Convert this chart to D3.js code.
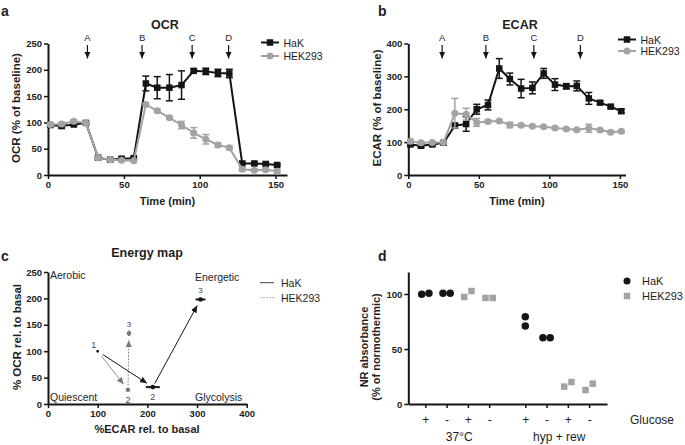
<!DOCTYPE html>
<html>
<head>
<meta charset="utf-8">
<script src="https://cdn.jsdelivr.net/npm/d3@7"></script>
<style>
  body { margin: 0; background: #fff; }
  text { font-family: "Liberation Sans", Arial, sans-serif; }
</style>
</head>
<body>
<svg id="fig" width="685" height="445"></svg>
<script>
// ---- data ----
const times = [1.5, 9, 17, 25, 33, 41, 48.5, 56.5, 64.5, 72, 80, 88, 96, 104, 112, 119.5, 128, 136, 143.5, 151];

const ocrHak    = [95, 93, 96, 99, 33, 29, 31, 32, 174, 166, 166, 171, 198, 197, 194, 193, 22, 22, 21, 19];
const ocrHakErr = [3, 3, 3, 2, 2, 2, 2, 2, 14, 21, 25, 27, 3, 6, 7, 8, 2, 2, 2, 2];
const ocrHek    = [96, 97, 102, 99, 33, 29, 28, 27, 134, 122, 109, 95, 80, 68, 57, 52, 11, 9, 10, 7];
const ocrHekErr = [3, 3, 3, 2, 3, 2, 2, 2, 3, 3, 3, 7, 10, 9, 4, 3, 3, 2, 3, 4];

const ecarHak    = [93, 89, 93, 98, 150, 155, 200, 213, 324, 292, 263, 265, 309, 275, 270, 271, 233, 220, 208, 194];
const ecarHakErr = [5, 5, 4, 3, 8, 22, 15, 15, 30, 18, 28, 18, 15, 18, 8, 15, 18, 5, 4, 6];
const ecarHek    = [103, 98, 99, 99, 188, 185, 160, 163, 164, 152, 151, 148, 147, 143, 140, 138, 142, 137, 130, 133];
const ecarHekErr = [5, 4, 3, 3, 45, 18, 12, 5, 4, 8, 4, 3, 3, 3, 3, 3, 12, 3, 4, 4];

const injLabels = ["A", "B", "C", "D"];
const injOcr  = [26, 62, 95, 119];
const injEcar = [24, 55, 89, 122];

const seriesNames = ["HaK", "HEK293"];

// energy map: points 1,2,3
const mapLabels = ["1", "2", "3"];
const mapHakEcar = [100, 211, 307];
const mapHakEcarErr = [1, 14, 10];
const mapHakOcr = [100, 32, 198];
const mapHakOcrErr = [1, 1, 3];
const mapHekEcar = [100, 161, 163];
const mapHekEcarErr = [1, 4, 3];
const mapHekOcr = [100, 27, 134];
const mapHekOcrErr = [1, 2, 5];
const corners = ["Aerobic", "Energetic", "Quiescent", "Glycolysis"];

// neutral red uptake
const nrGlucose = ["+", "-", "+", "-", "+", "-", "+", "-"];
const nrPos = [0.8, 1.8, 2.8, 3.8, 5.5, 6.5, 7.5, 8.5];
const nrCell = ["HaK", "HaK", "HEK293", "HEK293", "HaK", "HaK", "HEK293", "HEK293"];
const nrValues = [[99.7, 100.6], [100.6, 100.6], [97.3, 102.7], [96.4, 96.4], [79.4, 70.9], [60.3, 60.3], [15.8, 20], [12.7, 18.5]];
const nrJitter = [[-0.17, 0.17], [-0.17, 0.17], [-0.17, 0.17], [-0.17, 0.17], [0, 0], [-0.17, 0.17], [-0.17, 0.17], [-0.17, 0.17]];
const nrConditions = ["37°C", "hyp + rew"];

const black = "#151515";
const grey = "#a3a3a3";
const colour = { HaK: black, HEK293: grey };

const svg = d3.select("#fig");

const defs = svg.append("defs");
function addMarker(id, fill) {
  defs.append("marker")
    .attr("id", id)
    .attr("viewBox", "0 0 10 10")
    .attr("refX", 10).attr("refY", 5)
    .attr("markerWidth", 7).attr("markerHeight", 7)
    .attr("markerUnits", "userSpaceOnUse")
    .attr("orient", "auto")
    .append("path").attr("d", "M0,0.5L10,5L0,9.5Z").attr("fill", fill);
}
addMarker("headBlack", black);
addMarker("headGrey", "#7a7a7a");

function styleAxis(g) {
  g.attr("font-family", null).attr("font-size", null);
  g.select(".domain").attr("stroke", black).attr("stroke-width", 2);
  g.selectAll(".tick line").attr("stroke", black).attr("stroke-width", 1.5);
  g.selectAll(".tick text").attr("font-size", 9.5).attr("font-weight", "bold").attr("fill", "#222");
}

function label(g, x, y, txt, size, weight, anchor, rot) {
  const t = g.append("text").attr("x", x).attr("y", y)
    .attr("font-size", size).attr("font-weight", weight || "normal")
    .attr("text-anchor", anchor || "start").attr("fill", "#1e1e1e").text(txt);
  if (rot) t.attr("transform", `rotate(${rot},${x},${y})`);
  return t;
}

function drawMarker(g, kind, x, y, fill, s) {
  if (kind === "square") {
    g.append("rect").attr("x", x - s / 2).attr("y", y - s / 2).attr("width", s).attr("height", s).attr("fill", fill);
  } else {
    g.append("circle").attr("cx", x).attr("cy", y).attr("r", s / 2).attr("fill", fill);
  }
}

// ---- time course panels (a, b) ----
function timePanel(o) {
  const g = svg.append("g");
  const x = d3.scaleLinear().domain(o.xDomain).range(o.xRange);
  const y = d3.scaleLinear().domain(o.yDomain).range(o.yRange);

  g.append("g").attr("transform", `translate(0,${o.yRange[0]})`)
    .call(d3.axisBottom(x).tickValues([0, 50, 100, 150]).tickSize(4).tickPadding(2).tickSizeOuter(0))
    .call(styleAxis);
  g.append("g").attr("transform", `translate(${o.xRange[0]},0)`)
    .call(d3.axisLeft(y).tickValues(o.yTicks).tickSize(4).tickPadding(2).tickSizeOuter(0))
    .call(styleAxis);

  const series = [
    { name: "HaK", vals: o.hak, err: o.hakErr, kind: "square" },
    { name: "HEK293", vals: o.hek, err: o.hekErr, kind: "circle" }
  ];
  const line = d3.line().x((d, i) => x(times[i])).y(d => y(d));
  series.forEach(s => {
    const c = colour[s.name];
    g.append("path").datum(s.vals).attr("d", line)
      .attr("fill", "none").attr("stroke", c).attr("stroke-width", 2);
    s.vals.forEach((v, i) => {
      const cx = x(times[i]);
      const y1 = y(v + s.err[i]), y0 = y(v - s.err[i]);
      g.append("line").attr("x1", cx).attr("x2", cx).attr("y1", y1).attr("y2", y0)
        .attr("stroke", c).attr("stroke-width", 1.5);
      [y1, y0].forEach(yy => g.append("line").attr("x1", cx - 3.5).attr("x2", cx + 3.5)
        .attr("y1", yy).attr("y2", yy).attr("stroke", c).attr("stroke-width", 1.5));
      drawMarker(g, s.kind, cx, y(v), c, s.kind === "square" ? 6.5 : 7);
    });
  });

  // injection arrows
  o.inj.forEach((t, i) => {
    const ax = x(t);
    label(g, ax, 41, injLabels[i], 9.5, "normal", "middle");
    g.append("line").attr("x1", ax).attr("x2", ax).attr("y1", 45).attr("y2", 58.5)
      .attr("stroke", black).attr("stroke-width", 1.2).attr("marker-end", "url(#headBlack)");
  });

  // legend
  series.forEach((s, i) => {
    const ly = o.legendY[i];
    const c = colour[s.name];
    g.append("line").attr("x1", o.legendX).attr("x2", o.legendX + 18).attr("y1", ly).attr("y2", ly)
      .attr("stroke", c).attr("stroke-width", 2);
    drawMarker(g, s.kind, o.legendX + 9, ly, c, s.kind === "square" ? 6.5 : 7);
    label(g, o.legendX + 22.5, ly + 4, s.name, 10.5);
  });

  const cx = (o.xRange[0] + o.xRange[1]) / 2;
  label(g, o.titleX, 29, o.title, 12.5, "bold", "middle");
  label(g, cx, 205, "Time (min)", 11, "bold", "middle");
  label(g, o.yTitleX, 108, o.yTitle, 11.5, "bold", "middle", -90);
  label(g, o.letterX, 16, o.letter, 14, "bold");
}

timePanel({
  xDomain: [0, 157.5], xRange: [48, 287], yDomain: [0, 250], yRange: [175, 43.5],
  yTicks: [0, 50, 100, 150, 200, 250],
  hak: ocrHak, hakErr: ocrHakErr, hek: ocrHek, hekErr: ocrHekErr, inj: injOcr,
  legendX: 261, legendY: [42.5, 56], title: "OCR", titleX: 165,
  yTitle: "OCR (% of baseline)", yTitleX: 20, letter: "a", letterX: 1
});

timePanel({
  xDomain: [0, 154], xRange: [408.3, 625.5], yDomain: [0, 400], yRange: [175, 43.5],
  yTicks: [0, 100, 200, 300, 400],
  hak: ecarHak, hakErr: ecarHakErr, hek: ecarHek, hekErr: ecarHekErr, inj: injEcar,
  legendX: 618, legendY: [39.5, 51], title: "ECAR", titleX: 520,
  yTitle: "ECAR (% of baseline)", yTitleX: 381, letter: "b", letterX: 378
});

// ---- panel c: energy map ----
(function () {
  const g = svg.append("g");
  const x = d3.scaleLinear().domain([0, 400]).range([48, 246.7]);
  const y = d3.scaleLinear().domain([0, 250]).range([404, 272]);

  g.append("g").attr("transform", "translate(0,404)")
    .call(d3.axisBottom(x).tickValues([0, 100, 200, 300, 400]).tickSize(4).tickPadding(2).tickSizeOuter(0))
    .call(styleAxis);
  g.append("g").attr("transform", "translate(48,0)")
    .call(d3.axisLeft(y).tickValues([0, 50, 100, 150, 200, 250]).tickSize(4).tickPadding(2).tickSizeOuter(0))
    .call(styleAxis);

  label(g, 50, 279, corners[0], 10.5);
  label(g, 195, 281, corners[1], 10.5);
  label(g, 50, 401, corners[2], 10.5);
  label(g, 195, 401, corners[3], 10.5);

  function arrow(x1, y1, x2, y2, cut1, cut2, stroke, head, dash) {
    const dx = x2 - x1, dy = y2 - y1, len = Math.hypot(dx, dy);
    const ux = dx / len, uy = dy / len;
    const l = g.append("line")
      .attr("x1", x1 + ux * cut1).attr("y1", y1 + uy * cut1)
      .attr("x2", x2 - ux * cut2).attr("y2", y2 - uy * cut2)
      .attr("stroke", stroke).attr("stroke-width", 1).attr("marker-end", `url(#${head})`);
    if (dash) l.attr("stroke-dasharray", dash);
  }

  const sets = [
    { name: "HEK293", ex: mapHekEcar, exErr: mapHekEcarErr, oy: mapHekOcr, oyErr: mapHekOcrErr, stroke: "#909090", head: "headGrey", dash: [null, "2,1.2"], fill: "#7a7a7a" },
    { name: "HaK", ex: mapHakEcar, exErr: mapHakEcarErr, oy: mapHakOcr, oyErr: mapHakOcrErr, stroke: black, head: "headBlack", dash: [null, null], fill: black }
  ];

  sets.forEach(s => {
    for (let i = 0; i < 2; i++) {
      arrow(x(s.ex[i]), y(s.oy[i]), x(s.ex[i + 1]), y(s.oy[i + 1]),
        i === 0 ? 6 : 4, 7, s.stroke, s.head, s.dash[i]);
    }
  });

  sets.forEach(s => {
    s.ex.forEach((v, i) => {
      const px = x(v), py = y(s.oy[i]);
      g.append("line").attr("x1", x(v - s.exErr[i])).attr("x2", x(v + s.exErr[i]))
        .attr("y1", py).attr("y2", py).attr("stroke", s.fill).attr("stroke-width", 2);
      g.append("line").attr("x1", px).attr("x2", px)
        .attr("y1", y(s.oy[i] - s.oyErr[i])).attr("y2", y(s.oy[i] + s.oyErr[i]))
        .attr("stroke", s.fill).attr("stroke-width", 2);
      if (i > 0) {
        g.append("circle").attr("cx", px).attr("cy", py).attr("r", 2.3).attr("fill", s.fill);
      } else {
        g.append("rect").attr("x", px - 1).attr("y", py - 1).attr("width", 2).attr("height", 2).attr("fill", black);
      }
    });
    // point number labels
    label(g, x(s.ex[1]), y(s.oy[1]) + 13, mapLabels[1], 9, "normal", "middle").attr("fill", "#444");
    label(g, x(s.ex[2]), y(s.oy[2]) - 6, mapLabels[2], 8, "normal", "middle").attr("fill", "#444");
  });
  label(g, x(mapHakEcar[0]) - 4, y(mapHakOcr[0]) - 3, mapLabels[0], 9, "normal", "middle").attr("fill", "#444");

  // legend
  const lx = 260;
  [[282.7, "#444", null], [297.7, "#b0b0b0", "2,1"]].forEach((d, i) => {
    const l = g.append("line").attr("x1", lx).attr("x2", lx + 14).attr("y1", d[0]).attr("y2", d[0])
      .attr("stroke", d[1]).attr("stroke-width", 1);
    if (d[2]) l.attr("stroke-dasharray", d[2]);
    label(g, lx + 21, d[0] + 4, seriesNames[i], 10.5);
  });

  label(g, 147, 257, "Energy map", 12.5, "bold", "middle");
  label(g, 147, 433, "%ECAR rel. to basal", 11, "bold", "middle");
  label(g, 21, 337, "% OCR rel. to basal", 11.5, "bold", "middle", -90);
  label(g, 1, 261, "c", 14, "bold");
})();

// ---- panel d: neutral red absorbance ----
(function () {
  const g = svg.append("g");
  const x = d3.scaleLinear().domain([0, 9.34]).range([408.3, 607]);
  const y = d3.scaleLinear().domain([0, 120]).range([404, 272]);

  const xa = g.append("g").attr("transform", "translate(0,404)")
    .call(d3.axisBottom(x).tickValues(nrPos).tickFormat((d, i) => nrGlucose[i])
      .tickSize(4).tickPadding(7).tickSizeOuter(0))
    .call(styleAxis);
  xa.selectAll(".tick text").attr("font-size", 12).attr("font-weight", "normal");
  g.append("g").attr("transform", "translate(408.3,0)")
    .call(d3.axisLeft(y).tickValues([0, 50, 100]).tickSize(4).tickPadding(2).tickSizeOuter(0))
    .call(styleAxis);

  nrValues.forEach((vals, gi) => {
    const c = colour[nrCell[gi]];
    vals.forEach((v, j) => {
      const px = x(nrPos[gi] + nrJitter[gi][j]);
      drawMarker(g, nrCell[gi] === "HaK" ? "circle" : "square", px, y(v), c, nrCell[gi] === "HaK" ? 7.5 : 6.5);
    });
  });

  label(g, 630, 424, "Glucose", 12);
  label(g, x((nrPos[0] + nrPos[3]) / 2) + 2, 441, nrConditions[0], 12, "normal", "middle");
  label(g, x((nrPos[4] + nrPos[7]) / 2) + 2, 441, nrConditions[1], 12, "normal", "middle");

  drawMarker(g, "circle", 627, 281, black, 7);
  drawMarker(g, "square", 627, 296, grey, 6.5);
  label(g, 642, 285, seriesNames[0], 11);
  label(g, 642, 300, seriesNames[1], 11);

  label(g, 368, 347, "NR absorbance", 11, "bold", "middle", -90);
  label(g, 380, 347, "(% of normothermic)", 11, "bold", "middle", -90);
  label(g, 378, 261, "d", 14, "bold");
})();
</script>
</body>
</html>
